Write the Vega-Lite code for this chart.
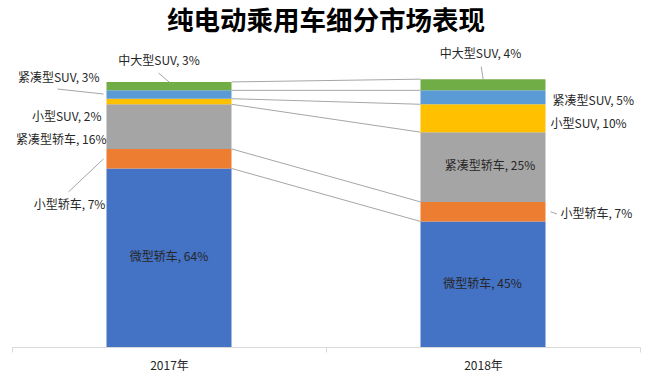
{
  "$schema": "https://vega.github.io/schema/vega-lite/v6.json",
  "width": 628,
  "height": 279,
  "autosize": "none",
  "padding": {"left": 12, "top": 68, "right": 10, "bottom": 32},
  "background": "white",
  "title": {
    "text": "纯电动乘用车细分市场表现",
    "font": "Noto Sans CJK SC",
    "fontSize": 26.5,
    "fontWeight": "bold",
    "color": "#000000",
    "anchor": "middle",
    "frame": "group",
    "offset": 13
  },
  "config": {
    "view": {"stroke": null},
    "font": "Noto Sans CJK SC",
    "text": {"font": "Noto Sans CJK SC", "fontSize": 12, "color": "#262626"}
  },
  "data": {
    "values": [
      {"year": "2017年", "cat": "微型轿车", "value": 64, "order": 1, "label": "微型轿车, 64%"},
      {"year": "2017年", "cat": "小型轿车", "value": 7, "order": 2, "label": "小型轿车, 7%"},
      {"year": "2017年", "cat": "紧凑型轿车", "value": 16, "order": 3, "label": "紧凑型轿车, 16%"},
      {"year": "2017年", "cat": "小型SUV", "value": 2, "order": 4, "label": "小型SUV, 2%"},
      {"year": "2017年", "cat": "紧凑型SUV", "value": 3, "order": 5, "label": "紧凑型SUV, 3%"},
      {"year": "2017年", "cat": "中大型SUV", "value": 3, "order": 6, "label": "中大型SUV, 3%"},
      {"year": "2018年", "cat": "微型轿车", "value": 45, "order": 1, "label": "微型轿车, 45%"},
      {"year": "2018年", "cat": "小型轿车", "value": 7, "order": 2, "label": "小型轿车, 7%"},
      {"year": "2018年", "cat": "紧凑型轿车", "value": 25, "order": 3, "label": "紧凑型轿车, 25%"},
      {"year": "2018年", "cat": "小型SUV", "value": 10, "order": 4, "label": "小型SUV, 10%"},
      {"year": "2018年", "cat": "紧凑型SUV", "value": 5, "order": 5, "label": "紧凑型SUV, 5%"},
      {"year": "2018年", "cat": "中大型SUV", "value": 4, "order": 6, "label": "中大型SUV, 4%"}
    ]
  },
  "transform": [
    {"stack": "value", "groupby": ["year"], "sort": [{"field": "order", "order": "ascending"}], "as": ["lo", "hi"]}
  ],
  "encoding": {
    "x": {
      "field": "year",
      "type": "nominal",
      "scale": {"paddingInner": 0, "paddingOuter": 0},
      "axis": {
        "title": null,
        "labelAngle": 0,
        "labelFont": "Noto Sans CJK SC",
        "labelFontSize": 12,
        "labelColor": "#262626",
        "labelPadding": 8,
        "domainColor": "#d9d9d9",
        "tickColor": "#d9d9d9",
        "tickBand": "extent",
        "tickSize": 5
      }
    },
    "y": {
      "field": "hi",
      "type": "quantitative",
      "scale": {"domain": [0, 100]},
      "axis": null
    }
  },
  "layer": [
    {
      "transform": [
        {"pivot": "year", "value": "hi", "groupby": ["cat"]}
      ],
      "mark": {"type": "rule", "color": "#a6a6a6", "strokeWidth": 1, "xOffset": 62.5, "x2Offset": -62.5},
      "encoding": {
        "x": {"datum": "2017年", "type": "nominal"},
        "x2": {"datum": "2018年"},
        "y": {"field": "2017年", "type": "quantitative"},
        "y2": {"field": "2018年"}
      }
    },
    {
      "mark": {"type": "bar", "size": 125},
      "encoding": {
        "y": {"field": "lo", "type": "quantitative"},
        "y2": {"field": "hi"},
        "color": {
          "field": "cat",
          "type": "nominal",
          "legend": null,
          "scale": {
            "domain": ["微型轿车", "小型轿车", "紧凑型轿车", "小型SUV", "紧凑型SUV", "中大型SUV"],
            "range": ["#4472C4", "#ED7D31", "#A5A5A5", "#FFC000", "#5B9BD5", "#70AD47"]
          }
        }
      }
    },
    {
      "transform": [{"filter": "datum.year == '2017年' && datum.cat == '中大型SUV'"}],
      "mark": {"type": "rule", "color": "#a6a6a6", "strokeWidth": 1, "xOffset": -10.5, "yOffset": -9, "x2Offset": 0, "y2Offset": 0},
      "encoding": {"x2": {"field": "year"}, "y2": {"field": "hi"}}
    },
    {
      "transform": [{"filter": "datum.year == '2017年' && datum.cat == '紧凑型SUV'"}],
      "mark": {"type": "rule", "color": "#a6a6a6", "strokeWidth": 1, "xOffset": -111.5, "yOffset": -1.3, "x2Offset": -65.5, "y2Offset": 3.7},
      "encoding": {"x2": {"field": "year"}, "y2": {"field": "hi"}}
    },
    {
      "transform": [{"filter": "datum.year == '2017年' && datum.cat == '小型轿车'"}],
      "mark": {"type": "rule", "color": "#a6a6a6", "strokeWidth": 1, "xOffset": -100.5, "yOffset": 43, "x2Offset": -65.5, "y2Offset": 10},
      "encoding": {"x2": {"field": "year"}, "y2": {"field": "hi"}}
    },
    {
      "transform": [{"filter": "datum.year == '2018年' && datum.cat == '中大型SUV'"}],
      "mark": {"type": "rule", "color": "#a6a6a6", "strokeWidth": 1, "xOffset": -1.8, "yOffset": -12.5, "x2Offset": 0.2, "y2Offset": 0},
      "encoding": {"x2": {"field": "year"}, "y2": {"field": "hi"}}
    },
    {
      "transform": [{"filter": "datum.year == '2018年' && datum.cat == '小型轿车'"}],
      "mark": {"type": "rule", "color": "#a6a6a6", "strokeWidth": 1, "xOffset": 67.5, "yOffset": 9.8, "x2Offset": 74, "y2Offset": 12},
      "encoding": {"x2": {"field": "year"}, "y2": {"field": "hi"}}
    },
    {
      "transform": [{"filter": "datum.year == '2017年' && datum.cat == '微型轿车'"}],
      "mark": {"type": "text", "align": "center", "baseline": "middle", "dx": 0, "dy": 88.6},
      "encoding": {"text": {"field": "label"}}
    },
    {
      "transform": [{"filter": "datum.year == '2017年' && datum.cat == '小型轿车'"}],
      "mark": {"type": "text", "align": "center", "baseline": "middle", "dx": -99.5, "dy": 56},
      "encoding": {"text": {"field": "label"}}
    },
    {
      "transform": [{"filter": "datum.year == '2017年' && datum.cat == '紧凑型轿车'"}],
      "mark": {"type": "text", "align": "right", "baseline": "middle", "dx": -62.5, "dy": 35.7},
      "encoding": {"text": {"field": "label"}}
    },
    {
      "transform": [{"filter": "datum.year == '2017年' && datum.cat == '小型SUV'"}],
      "mark": {"type": "text", "align": "right", "baseline": "middle", "dx": -67.5, "dy": 18},
      "encoding": {"text": {"field": "label"}}
    },
    {
      "transform": [{"filter": "datum.year == '2017年' && datum.cat == '紧凑型SUV'"}],
      "mark": {"type": "text", "align": "right", "baseline": "middle", "dx": -69.5, "dy": -12.3},
      "encoding": {"text": {"field": "label"}}
    },
    {
      "transform": [{"filter": "datum.year == '2017年' && datum.cat == '中大型SUV'"}],
      "mark": {"type": "text", "align": "center", "baseline": "middle", "dx": -10, "dy": -21},
      "encoding": {"text": {"field": "label"}}
    },
    {
      "transform": [{"filter": "datum.year == '2018年' && datum.cat == '微型轿车'"}],
      "mark": {"type": "text", "align": "center", "baseline": "middle", "dx": -0.5, "dy": 62.5},
      "encoding": {"text": {"field": "label"}}
    },
    {
      "transform": [{"filter": "datum.year == '2018年' && datum.cat == '小型轿车'"}],
      "mark": {"type": "text", "align": "left", "baseline": "middle", "dx": 77.5, "dy": 12},
      "encoding": {"text": {"field": "label"}}
    },
    {
      "transform": [{"filter": "datum.year == '2018年' && datum.cat == '紧凑型轿车'"}],
      "mark": {"type": "text", "align": "center", "baseline": "middle", "dx": 7, "dy": 33.8},
      "encoding": {"text": {"field": "label"}}
    },
    {
      "transform": [{"filter": "datum.year == '2018年' && datum.cat == '小型SUV'"}],
      "mark": {"type": "text", "align": "left", "baseline": "middle", "dx": 67.5, "dy": 19.7},
      "encoding": {"text": {"field": "label"}}
    },
    {
      "transform": [{"filter": "datum.year == '2018年' && datum.cat == '紧凑型SUV'"}],
      "mark": {"type": "text", "align": "left", "baseline": "middle", "dx": 69.5, "dy": 10.4},
      "encoding": {"text": {"field": "label"}}
    },
    {
      "transform": [{"filter": "datum.year == '2018年' && datum.cat == '中大型SUV'"}],
      "mark": {"type": "text", "align": "center", "baseline": "middle", "dx": -2.5, "dy": -25},
      "encoding": {"text": {"field": "label"}}
    }
  ]
}
